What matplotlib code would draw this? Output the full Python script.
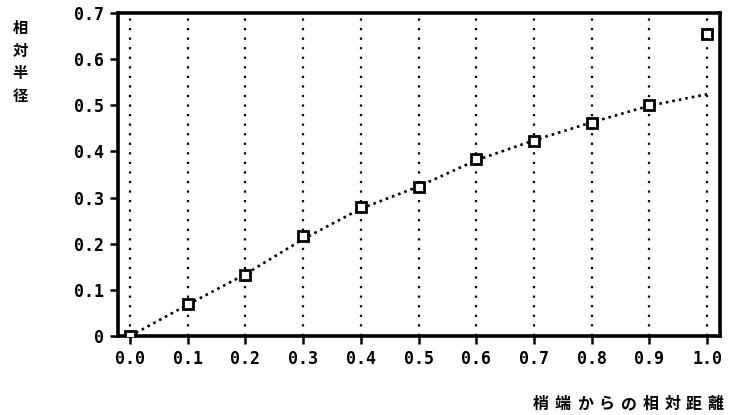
import matplotlib.pyplot as plt

# relative distance from tip
x_pos = [0.0, 0.1, 0.2, 0.3, 0.4, 0.5, 0.6, 0.7, 0.8, 0.9, 1.0]
# measured relative radius (squares)
radius = [0.0, 0.069, 0.132, 0.217, 0.280, 0.323, 0.384, 0.423, 0.462, 0.501, 0.655]
# fitted curve (dotted line)
fit = [0.0, 0.068, 0.134, 0.210, 0.276, 0.324, 0.381, 0.424, 0.463, 0.499, 0.524]

x_ticks = [0.0, 0.1, 0.2, 0.3, 0.4, 0.5, 0.6, 0.7, 0.8, 0.9, 1.0]
x_labels = ["0.0", "0.1", "0.2", "0.3", "0.4", "0.5", "0.6", "0.7", "0.8", "0.9", "1.0"]
y_ticks = [0.0, 0.1, 0.2, 0.3, 0.4, 0.5, 0.6, 0.7]
y_labels = ["0", "0.1", "0.2", "0.3", "0.4", "0.5", "0.6", "0.7"]

ylabel = "相対半径"
xlabel = "梢端からの相対距離"

fig = plt.figure(figsize=(7.3, 4.15), dpi=100)
ax = fig.add_axes([118 / 730, 79 / 415, 602 / 730, 323 / 415])

for xv in x_ticks:
    ax.axvline(xv, color="black", lw=1.6, linestyle=(0, (1, 3.3)), zorder=1)

ax.plot(x_pos, fit, color="black", lw=1.9, linestyle=(0, (1, 1.5)), zorder=2)
ax.plot(x_pos, radius, linestyle="none", marker="s", ms=7, mew=2,
        mfc="white", mec="black", zorder=3)

ax.set_xlim(-0.021, 1.0225)
ax.set_ylim(0, 0.7)
ax.set_xticks(x_ticks)
ax.set_xticklabels(x_labels)
ax.set_yticks(y_ticks)
ax.set_yticklabels(y_labels)

for s in ax.spines.values():
    s.set_linewidth(2.6)
ax.tick_params(direction="out", length=6, width=1.8, pad=4)
for lab in ax.get_xticklabels() + ax.get_yticklabels():
    lab.set_fontfamily("DejaVu Sans Mono")
    lab.set_fontweight("bold")
    lab.set_fontsize(12)

fig.text(20 / 730, 1 - 62 / 415, "\n".join(ylabel), ha="center", va="center",
         fontsize=11, family="Noto Sans CJK JP", weight="bold", linespacing=1.5)

# x label: characters spread out at the bottom right
x0, x1 = 541, 716
for i, ch in enumerate(xlabel):
    xc = x0 + (x1 - x0) * i / (len(xlabel) - 1)
    fig.text(xc / 730, 1 - 404 / 415, ch, ha="center", va="center",
             fontsize=11.5, family="Noto Sans CJK JP", weight="bold")

fig.savefig("out.png", dpi=100)
